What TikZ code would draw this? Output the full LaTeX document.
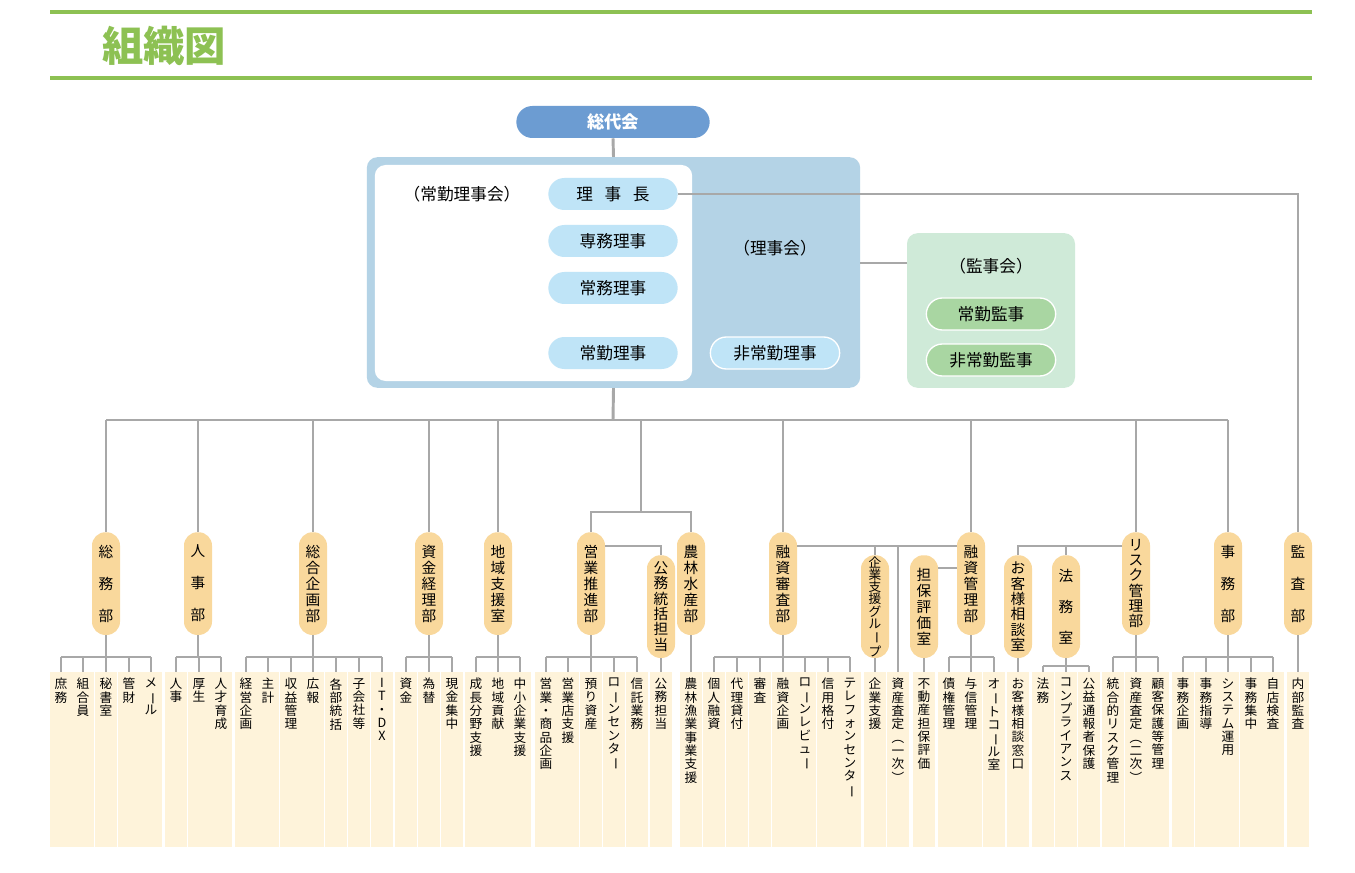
\documentclass[tikz,border=0pt]{standalone}
\usepackage{fontspec}
\setmainfont{Noto Sans CJK JP}
\definecolor{linec}{HTML}{A8A8A8}
\definecolor{stripc}{HTML}{FEF3DA}
\definecolor{pillc}{HTML}{F9D89C}
\definecolor{greenc}{HTML}{8DC153}
\definecolor{soudai}{HTML}{6C9CD2}
\definecolor{boardc}{HTML}{B4D3E6}
\definecolor{bpill}{HTML}{BFE4F7}
\definecolor{kanbox}{HTML}{CFEAD8}
\definecolor{kanpill}{HTML}{A9D6A2}
\def\vtc#1{\ifx#1ー\rotatebox[origin=c]{-90}{ー}\else\ifx#1（\rotatebox[origin=c]{-90}{（}\else\ifx#1）\rotatebox[origin=c]{-90}{）}\else#1\fi\fi\fi}
\def\vtx#1{\ifx\relax#1\else\hbox to 1.1em{\hss\vtc{#1}\hss}\expandafter\vtx\fi}
\newcommand\vt[2]{\vbox{\baselineskip=#1\relax\expandafter\vtx#2\relax}}
\tikzset{
 conn/.style={draw=linec,line width=2.2pt},
 stripbox/.style={fill=stripc,minimum width=15.8pt,minimum height=131pt,inner sep=0pt},
 striptext/.style={anchor=north,inner sep=0pt,font=\fontsize{9.5}{10}\selectfont},
 dept/.style={fill=pillc,rounded corners=10pt,minimum width=21pt,minimum height=77pt,inner sep=0pt,anchor=north,font=\fontsize{11}{12}\selectfont},
 bp/.style={fill=bpill,rounded corners=12pt,minimum width=97pt,minimum height=24pt,inner sep=0pt,font=\fontsize{12.5}{14}\selectfont},
}
\newcommand\brk[4]{\draw[conn] (#1.south) -- (#1.south|-#4); \draw[conn] (s#2.north|-#4) -- (s#3.north|-#4);
 \foreach \k in {#2,...,#3}{\draw[conn] (s\k.north|-#4) -- (s\k.north);}}
\begin{document}
\begin{tikzpicture}[x=0.75pt,y=-0.75pt]
\useasboundingbox[fill=white] (0,0) rectangle (1355,873);
% title
\draw[greenc,line width=3.5pt] (50,12) -- (1312,12);
\draw[greenc,line width=3pt] (50,78) -- (1312,78);
\node[text=greenc,font=\fontsize{31}{34}\selectfont\bfseries] (title) at (164,46) {組織図};
% board
\node[fill=soudai,rounded corners=12pt,minimum width=145pt,minimum height=24pt,text=white,font=\fontsize{13}{14}\selectfont\bfseries] (soudai) at (613,122) {総代会};
\node[fill=boardc,rounded corners=8pt,minimum width=370pt,minimum height=173pt] (board) at (613.5,272.5) {};
\node[fill=white,rounded corners=8pt,minimum width=238pt,minimum height=162pt] (inner) at (533.5,273) {};
\node[font=\fontsize{12.5}{14}\selectfont] (jokin) at (462,194) {（常勤理事会）};
\node[bp] (rijicho) at (613,194) {理\hspace{0.7em}事\hspace{0.7em}長};
\node[bp] (senmu) at (613,241) {専務理事};
\node[bp] (jomu) at (613,288) {常務理事};
\node[bp] (jokinriji) at (613,353) {常勤理事};
\node[font=\fontsize{12.5}{14}\selectfont] (rijikai) at (775,248) {（理事会）};
\node[bp,draw=white,line width=1pt] (hijokin) at (775,353) {非常勤理事};
\node[fill=kanbox,rounded corners=8pt,minimum width=126pt,minimum height=116pt] (kanji) at (991,310.5) {};
\node[font=\fontsize{12.5}{14}\selectfont] (kanjikai) at (991,266) {（監事会）};
\node[bp,fill=kanpill,draw=white,line width=1pt] (jokinkan) at (991,314) {常勤監事};
\node[bp,fill=kanpill,draw=white,line width=1pt] (hijokinkan) at (991,360) {非常勤監事};
\draw[conn] (soudai.south) -- (board.north);
\draw[conn] (board.east|-kanji.west) ++(0,-47) coordinate (bk) ;
\coordinate (kj) at (907,263);
\draw[conn] (kj-|board.east) -- (kj);
% strips
\foreach \x/\t [count=\j from 0] in {61/庶務,83/組合員,106/秘書室,129/管財,151/メール,176/人事,199/厚生,221/人才育成,246/経営企画,268/主計,291/収益管理,313/広報,336/各部統括,359/子会社等,382/IT・DX,406/資金,429/為替,452/現金集中,476/成長分野支援,498/地域貢献,520/中小企業支援,546/営業・商品企画,568/営業店支援,591/預り資産,614/ローンセンター,637/信託業務,661/公務担当,691/農林漁業事業支援,714/個人融資,737/代理貸付,760/審査,783/融資企画,805/ローンレビュー,828/信用格付,850/テレフォンセンター,875/企業支援,898/資産査定（一次）,924/不動産担保評価,949/債権管理,971/与信管理,994/オートコール室,1018/お客様相談窓口,1043/法務,1066/コンプライアンス,1089/公益通報者保護,1113/統合的リスク管理,1136/資産査定（二次）,1158/顧客保護等管理,1183/事務企画,1206/事務指導,1228/システム運用,1251/事務集中,1273/自店検査,1298/内部監査}{
 \node[stripbox] (s\j) at (\x,759.5) {};
 \node[striptext] (t\j) at (\x,678) {\vt{10pt}{\t}};
}
% depts
\node[dept] (dA) at (106,532) {\vt{24pt}{総務部}};
\node[dept] (dB) at (198,532) {\vt{24pt}{人事部}};
\node[dept] (dC) at (313,532) {\vt{12pt}{総合企画部}};
\node[dept] (dD) at (429,532) {\vt{12pt}{資金経理部}};
\node[dept] (dE) at (498,532) {\vt{12pt}{地域支援室}};
\node[dept] (dF) at (591,532) {\vt{12pt}{営業推進部}};
\node[dept] (dG) at (661,555) {\vt{11.5pt}{公務統括担当}};
\node[dept] (dH) at (691,532) {\vt{12pt}{農林水産部}};
\node[dept] (dI) at (783,532) {\vt{12pt}{融資審査部}};
\node[dept,font=\fontsize{9.5}{10}\selectfont] (dJ) at (875,555) {\vt{9.2pt}{企業支援グループ}};
\node[dept] (dK) at (924,555) {\vt{12pt}{担保評価室}};
\node[dept] (dL) at (971,532) {\vt{12pt}{融資管理部}};
\node[dept] (dM) at (1018,555) {\vt{11.5pt}{お客様相談室}};
\node[dept] (dN) at (1066,555) {\vt{23pt}{法務室}};
\node[dept] (dO) at (1136,532) {\vt{11.5pt}{リスク管理部}};
\node[dept] (dP) at (1228,532) {\vt{24pt}{事務部}};
\node[dept] (dQ) at (1298,532) {\vt{24pt}{監査部}};
% upper connectors
\coordinate (bus) at (613,420);
\coordinate (ey) at (641,512);
\coordinate (y546) at (0,546);
\coordinate (y568) at (0,568);
\coordinate (bar) at (0,657);
\coordinate (bar2) at (0,666);
\draw[conn] (board.south) -- (bus);
\draw[conn] (dA.north|-bus) -- (dP.north|-bus);
\foreach \d in {dA,dB,dC,dD,dE,dI,dL,dO,dP}{\draw[conn] (\d.north|-bus) -- (\d.north);}
\draw[conn] (ey|-bus) -- (ey);
\draw[conn] (dF.north) |- (ey) -| (dH.north);
\draw[conn] (dF.east|-y546) -| (dG.north);
\draw[conn] (dI.east|-y546) -- (dL.west|-y546);
\draw[conn] (dJ.north|-y546) -- (dJ.north);
\draw[conn] (s36.north|-y546) -- (s36.north);
\draw[conn] (dK.east|-y568) -- (dL.west|-y568);
\draw[conn] (dM.north) |- (dO.west|-y546);
\draw[conn] (dN.north|-y546) -- (dN.north);
\draw[conn] (rijicho.east) -| (dQ.north);
% lower brackets
\brk{dA}{0}{4}{bar}
\brk{dB}{5}{7}{bar}
\brk{dC}{8}{14}{bar}
\brk{dD}{15}{17}{bar}
\brk{dE}{18}{20}{bar}
\brk{dF}{21}{25}{bar}
\brk{dI}{28}{34}{bar}
\brk{dL}{38}{40}{bar}
\brk{dN}{42}{44}{bar2}
\brk{dO}{45}{47}{bar}
\brk{dP}{48}{52}{bar}
\draw[conn] (dG.south) -- (s26.north);
\draw[conn] (dH.south) -- (s27.north);
\draw[conn] (dJ.south) -- (s35.north);
\draw[conn] (dK.south) -- (s37.north);
\draw[conn] (dM.south) -- (s41.north);
\draw[conn] (dQ.south) -- (s53.north);
\end{tikzpicture}
\end{document}
